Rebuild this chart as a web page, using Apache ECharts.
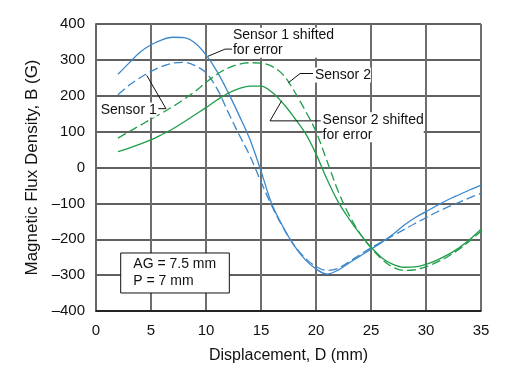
<!DOCTYPE html>
<html>
<head>
<meta charset="utf-8">
<script src="https://cdn.jsdelivr.net/npm/echarts@6/dist/echarts.min.js"></script>
<style>html,body{margin:0;padding:0;background:#fff;}#c{width:516px;height:380px;}</style>
</head>
<body>
<div id="c"></div>
<script>
// Displacement D (mm)
var displacement = [2,3,4,5,6,7,8,9,10,11,12,13,14,15,16,17,18,19,20,21,22,23,24,25,26,27,28,29,30,31,32,33,34,35];
// Magnetic flux density B (G)
var sensor1Shifted = [260,291,321,342,356,363,362,347,314,268,210,146,78,-10,-103,-165,-217,-256,-283,-297,-286,-266,-247,-228,-208,-186,-161,-140,-123,-106,-90,-76,-62,-49];
var sensor1 = [203,229,250,268,282,291,293,284,264,220,155,92,32,-40,-108,-167,-216,-252,-276,-287,-281,-263,-243,-224,-207,-190,-173,-156,-140,-124,-110,-97,-84,-72];
var sensor2Shifted = [44,54,65,77,92,108,127,147,167,188,207,220,227,227,210,179,140,97,38,-33,-95,-143,-185,-222,-252,-270,-278,-277,-270,-258,-243,-224,-200,-172];
var sensor2 = [82,100,117,135,152,170,190,212,237,260,277,288,292,291,282,259,214,160,100,18,-65,-132,-184,-224,-256,-278,-287,-285,-277,-264,-248,-228,-204,-178];
var xTicks = [0,5,10,15,20,25,30,35];
var yTicks = [-400,-300,-200,-100,0,100,200,300,400];

var BLUE = '#3a87cc', GREEN = '#1e9e4a';
var FONT = '"Liberation Sans", Arial, Helvetica, sans-serif';

function pairs(ys){ return displacement.map(function(d,i){ return [d, ys[i]]; }); }
function lineSeries(name, ys, color, dashed){
  return {
    name: name, type: 'line', data: pairs(ys), smooth: 0.35, showSymbol: false, symbol: 'none',
    silent: true, animation: false,
    lineStyle: { color: color, width: 1.3, type: dashed ? [9,4] : 'solid' }
  };
}

var chart = echarts.init(document.getElementById('c'), null, {renderer: 'canvas'});
chart.setOption({
  animation: false,
  backgroundColor: '#fff',
  grid: { left: 96, right: 35, top: 24, bottom: 69, containLabel: false },
  xAxis: {
    type: 'value', min: xTicks[0], max: xTicks[xTicks.length-1], interval: 5,
    name: 'Displacement, D (mm)', nameLocation: 'middle', nameGap: 37,
    nameTextStyle: { fontFamily: FONT, fontSize: 16, color: '#111' },
    axisLine: { show: true, onZero: false, lineStyle: { color: '#111', width: 1.5 } },
    axisTick: { show: false },
    axisLabel: { fontFamily: FONT, fontSize: 15, color: '#111', margin: 12 },
    splitLine: { show: true, lineStyle: { color: '#6e6e6e', width: 2 } }
  },
  yAxis: {
    type: 'value', min: yTicks[0], max: yTicks[yTicks.length-1], interval: 100,
    name: 'Magnetic Flux Density, B (G)', nameLocation: 'middle', nameGap: 55,
    nameTextStyle: { fontFamily: FONT, fontSize: 17, color: '#111' },
    axisLine: { show: true, onZero: false, lineStyle: { color: '#666', width: 2 } },
    axisTick: { show: false },
    axisLabel: { fontFamily: FONT, fontSize: 15, color: '#111', margin: 11,
      formatter: function(v){ return String(v).replace('-', '\u2013'); } },
    splitLine: { show: true, lineStyle: { color: '#2b2b2b', width: 1.5 } }
  },
  series: [
    lineSeries('Sensor 1 shifted for error', sensor1Shifted, BLUE, false),
    lineSeries('Sensor 1', sensor1, BLUE, true),
    lineSeries('Sensor 2 shifted for error', sensor2Shifted, GREEN, false),
    lineSeries('Sensor 2', sensor2, GREEN, true)
  ]
});

// Annotations (data coordinates) converted to pixels
function P(d, v){ return chart.convertToPixel({gridIndex: 0}, [d, v]); }
function leader(pts){
  return { type: 'polyline', silent: true, z: 10,
    shape: { points: pts.map(function(p){ return P(p[0], p[1]); }) },
    style: { stroke: '#111', lineWidth: 1, fill: null } };
}
function label(txt, d, v, align){
  var p = P(d, v);
  return { type: 'text', silent: true, z: 11, x: p[0], y: p[1],
    style: { text: txt, fontFamily: FONT, fontSize: 14, fill: '#111', lineHeight: 15,
      align: align || 'left', verticalAlign: 'middle', backgroundColor: '#fff' } };
}
var b1 = P(2.245, -238.3), b2 = P(12.12, -349.8);
chart.setOption({
  graphic: [
    leader([[10.18, 310], [11.73, 330], [12.36, 330]]),
    label('Sensor 1 shifted\nfor error', 12.45, 348),
    leader([[17.48, 236], [18.55, 262], [19.73, 262]]),
    label('Sensor 2', 19.9, 258),
    leader([[16.88, 186], [15.82, 130], [20.43, 130]]),
    label('Sensor 2 shifted\nfor error', 20.6, 112),
    leader([[4.61, 257], [6.36, 164], [5.66, 164]]),
    label('Sensor 1', 5.52, 160, 'right'),
    { type: 'rect', silent: true, z: 10,
      shape: { x: b1[0], y: b1[1], width: b2[0]-b1[0], height: b2[1]-b1[1] },
      style: { fill: '#fff', stroke: '#111', lineWidth: 1 } },
    label('AG = 7.5 mm', 3.39, -270),
    label('P = 7 mm', 3.39, -316)
  ]
});
</script>
</body>
</html>
